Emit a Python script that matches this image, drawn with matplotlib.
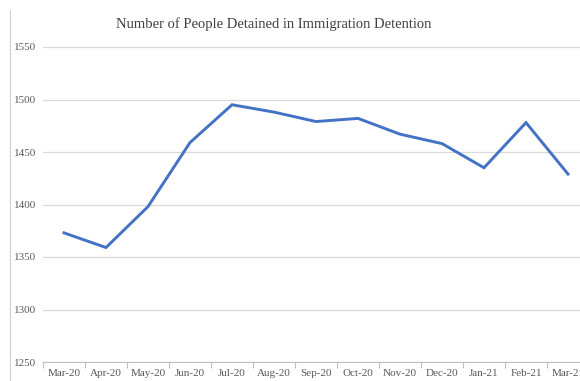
import matplotlib
matplotlib.use("Agg")
import matplotlib.pyplot as plt
import numpy as np

months = ["Mar-20", "Apr-20", "May-20", "Jun-20", "Jul-20", "Aug-20", "Sep-20",
          "Oct-20", "Nov-20", "Dec-20", "Jan-21", "Feb-21", "Mar-21"]
detained = [1373, 1359, 1398, 1459, 1495, 1488, 1479, 1482, 1467, 1458, 1435, 1478, 1429]
yticks = [1250, 1300, 1350, 1400, 1450, 1500, 1550]

plt.rcParams['font.family'] = ['Liberation Serif', 'DejaVu Serif']

fig = plt.figure(figsize=(5.8, 3.81), dpi=100)
ax = fig.add_axes([43/580, 1 - 362/381, 546/580, (362 - 47)/381])

x = np.arange(len(months))
ax.plot(x, detained, color="#4472C4", linewidth=2.1, solid_joinstyle="miter")

ax.set_xlim(-0.5, len(months) - 0.5)
ax.set_ylim(1250, 1550)
ax.set_yticks(yticks)
ax.set_yticklabels([str(v) for v in yticks], fontsize=8, color="#595959")
ax.set_xticks(x)
ax.set_xticklabels(months, fontsize=8, color="#595959")
ax.set_xticks(np.arange(-0.5, len(months)), minor=True)
ax.tick_params(axis="x", which="major", length=0, pad=5)
ax.tick_params(axis="x", which="minor", length=4, color="#bfbfbf", width=0.8)
ax.tick_params(axis="y", length=0, pad=5)

ax.grid(axis="y", color="#d9d9d9", linewidth=0.9)
ax.set_axisbelow(True)
for s in ["top", "right", "left"]:
    ax.spines[s].set_visible(False)
ax.spines["bottom"].set_color("#bfbfbf")
ax.spines["bottom"].set_linewidth(0.8)

fig.text(274/580, 1 - 24/381, "Number of People Detained in Immigration Detention",
         ha="center", va="center", fontsize=10.5, color="#404040")

# chart frame edge on the left
fig.add_artist(plt.Line2D([10/580, 10/580], [0, 1 - 10/381], color="#d0d0d0", linewidth=0.8))

fig.savefig("out.png", dpi=100)
